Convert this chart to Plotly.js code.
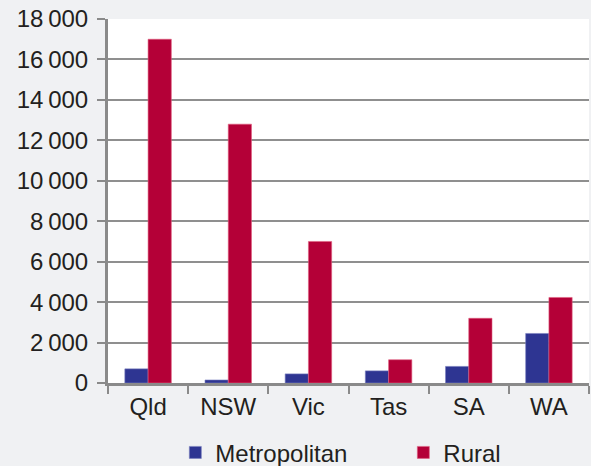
<!DOCTYPE html>
<html>
<head>
<meta charset="utf-8">
<script src="https://cdn.plot.ly/plotly-3.0.1.min.js"></script>
<style>
  html, body { margin: 0; padding: 0; background: #f0f1f3; }
  #chart { width: 591px; height: 466px; }
</style>
</head>
<body>
<div id="chart"></div>
<script>
// States and the two series plotted for each
const states = ['Qld', 'NSW', 'Vic', 'Tas', 'SA', 'WA'];
const metropolitan = [700, 150, 450, 600, 820, 2450];
const rural = [17000, 12800, 7000, 1150, 3200, 4230];

// Y-axis tick values with thin-space thousands separator
const yTickVals = [0, 2000, 4000, 6000, 8000, 10000, 12000, 14000, 16000, 18000];
const yTickText = ['0', '2\u2009000', '4\u2009000', '6\u2009000', '8\u2009000',
  '10\u2009000', '12\u2009000', '14\u2009000', '16\u2009000', '18\u2009000'];

const font = { family: 'Liberation Sans, Arial, Helvetica, sans-serif', size: 24, color: '#231f20' };

const traces = [
  {
    type: 'bar', name: 'Metropolitan', x: states, y: metropolitan,
    marker: { color: '#2e3592', line: { color: '#7a7fc0', width: 0.6 } }
  },
  {
    type: 'bar', name: 'Rural', x: states, y: rural,
    marker: { color: '#b40037', line: { color: '#e06080', width: 0.6 } }
  }
];

const layout = {
  width: 591, height: 466,
  margin: { l: 108, r: 2, t: 19, b: 83, autoexpand: false },
  paper_bgcolor: '#f0f1f3',
  plot_bgcolor: '#ffffff',
  font: font,
  barmode: 'group',
  bargap: 0.42,
  bargroupgap: 0,
  showlegend: true,
  legend: {
    orientation: 'h', x: 0.14, xanchor: 'left', y: -0.13, yanchor: 'top',
    bgcolor: 'rgba(0,0,0,0)', font: font,
    entrywidth: 183, entrywidthmode: 'pixels', itemwidth: 30
  },
  xaxis: {
    type: 'category',
    showline: true, linecolor: '#8a8a8a', linewidth: 3,
    ticks: 'outside', tickson: 'boundaries', ticklen: 8, tickwidth: 2, tickcolor: '#8a8a8a',
    showgrid: false, tickfont: font
  },
  yaxis: {
    range: [0, 18000],
    tickvals: yTickVals, ticktext: yTickText,
    showline: true, linecolor: '#8a8a8a', linewidth: 3,
    ticks: 'outside', ticklen: 8, tickwidth: 2, tickcolor: '#8a8a8a',
    showgrid: true, gridcolor: '#8f8f8f', gridwidth: 2,
    zeroline: false, tickfont: font, ticklabelstandoff: 4
  }
};

Plotly.newPlot('chart', traces, layout, { displayModeBar: false, staticPlot: true });
</script>
</body>
</html>
